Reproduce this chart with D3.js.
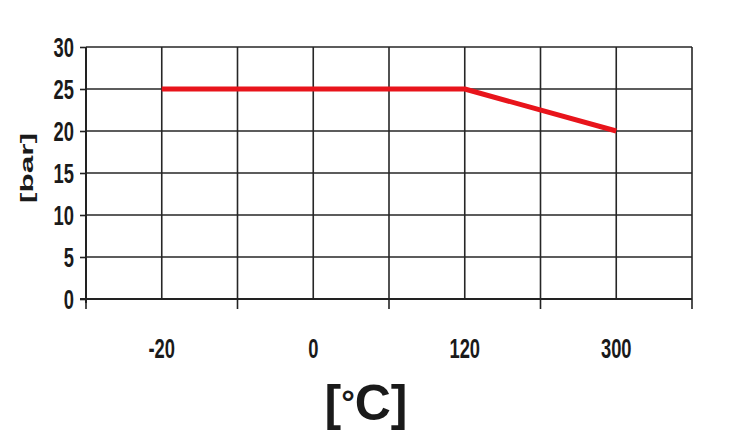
<!DOCTYPE html>
<html><head><meta charset="utf-8">
<script src="https://cdn.jsdelivr.net/npm/d3@7"></script>
<style>
html,body{margin:0;padding:0;background:#fff;}
text{font-family:"Liberation Sans",Arial,sans-serif;font-weight:bold;fill:#1a1a1a;}
</style></head>
<body><svg id="c" width="730" height="445"></svg>
<script>
const categories = ["-20", "0", "120", "300"];
const pressure = [25, 25, 25, 20];
const yTicks = [0, 5, 10, 15, 20, 25, 30];
const yLabel = "[bar]";
const xLabelParts = ["[", "°", "C]"];

const svg = d3.select("#c");
const m = {l: 86, r: 692, t: 47, b: 299};
const x = d3.scaleBand().domain(categories).range([m.l, m.r]);
const y = d3.scaleLinear().domain([0, 30]).range([m.b, m.t]);
const grid = svg.append("g").attr("stroke", "#262626").attr("stroke-width", 1.6);

// horizontal gridlines
grid.selectAll("line.h").data(yTicks).join("line")
  .attr("x1", m.l).attr("x2", m.r)
  .attr("y1", d => y(d)).attr("y2", d => y(d));
// vertical gridlines at band edges and centers
const vpos = [];
categories.forEach(c => { vpos.push(x(c)); vpos.push(x(c) + x.bandwidth()/2); });
vpos.push(m.r);
grid.selectAll("line.v").data(vpos).join("line")
  .attr("x1", d => d).attr("x2", d => d)
  .attr("y1", m.t).attr("y2", m.b);

// y axis
const ya = svg.append("g").attr("transform", `translate(${m.l},0)`)
  .call(d3.axisLeft(y).tickValues(yTicks).tickSize(6).tickFormat(""));
ya.select(".domain").attr("stroke", "#222").attr("stroke-width", 2)
  .attr("d", `M0,${m.b + 4}V${m.t}`);
ya.selectAll(".tick line").attr("stroke", "#222").attr("stroke-width", 1.6);
ya.selectAll(".tick").append("text")
  .attr("transform", "translate(-12,0) scale(0.68,1)")
  .attr("dy", "0.36em").attr("text-anchor", "end")
  .attr("font-size", 27).attr("fill", "#1a1a1a")
  .attr("font-family", "Liberation Sans, Arial, sans-serif")
  .text(d => d);

// x axis: ticks between categories
const xa = svg.append("g").attr("transform", `translate(0,${m.b})`);
xa.append("line").attr("x1", m.l - 6).attr("x2", m.r).attr("y1", 0).attr("y2", 0)
  .attr("stroke", "#222").attr("stroke-width", 2);
const edges = categories.map(c => x(c)).concat([m.r]);
xa.selectAll("line.t").data(edges).join("line")
  .attr("x1", d => d).attr("x2", d => d).attr("y1", 0).attr("y2", 10)
  .attr("stroke", "#222").attr("stroke-width", 1.6);
xa.selectAll("text").data(categories).join("text")
  .attr("transform", d => `translate(${x(d) + x.bandwidth()/2},59) scale(0.68,1)`)
  .attr("text-anchor", "middle").attr("font-size", 27).text(d => d);

// line
const line = d3.line().x((d, i) => x(categories[i]) + x.bandwidth()/2).y(d => y(d));
svg.append("path").datum(pressure).attr("d", line)
  .attr("fill", "none").attr("stroke", "#e8141b").attr("stroke-width", 5)
  .attr("stroke-linejoin", "round");

// labels
svg.append("text").attr("transform", "translate(33,168) rotate(-90) scale(1.05,0.6)")
  .attr("text-anchor", "middle").attr("font-size", 30).text(yLabel);
const xl = svg.append("text").attr("x", 366).attr("y", 420)
  .attr("text-anchor", "middle").attr("font-size", 50);
xl.append("tspan").text(xLabelParts[0]);
xl.append("tspan").attr("font-size", 34).attr("dy", -6).text(xLabelParts[1]);
xl.append("tspan").attr("dy", 6).text(xLabelParts[2]);
</script></body></html>
